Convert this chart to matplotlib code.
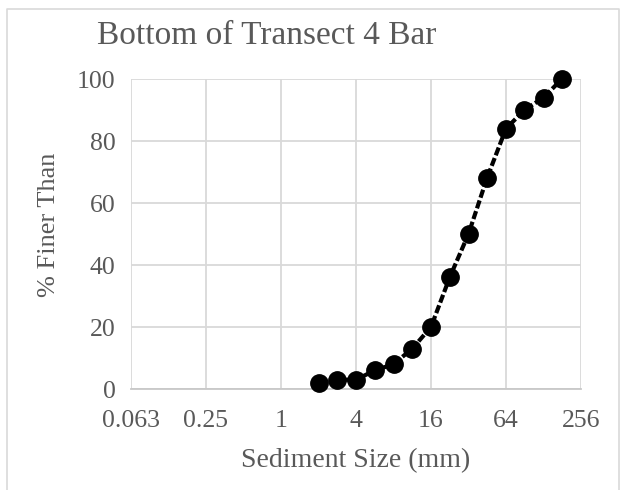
import matplotlib
matplotlib.use("Agg")
import matplotlib.pyplot as plt
from matplotlib.lines import Line2D

# Grain size distribution (sieve size in mm vs cumulative % finer)
size_mm = [2, 2.83, 4, 5.66, 8, 11.3, 16, 22.6, 32, 45, 64, 90, 128, 180]
pct_finer = [2, 3, 3, 6, 8, 13, 20, 36, 50, 68, 84, 90, 94, 100]

x_ticks = [0.0625, 0.25, 1, 4, 16, 64, 256]
x_tick_labels = ["0.063", "0.25", "1", "4", "16", "64", "256"]
y_ticks = [0, 20, 40, 60, 80, 100]

text_grey = "#595959"
grid_grey = "#d9d9d9"

plt.rcParams["font.family"] = ["Liberation Serif", "DejaVu Serif"]

W, H = 621, 490
fig = plt.figure(figsize=(W / 100, H / 100), dpi=100)
ax = fig.add_axes([131 / W, 1 - 389 / H, 450 / W, 310 / H])

ax.plot(size_mm, pct_finer, color="black", lw=3.0,
        linestyle=(0, (2.0, 0.7)), marker="o", markersize=12.5,
        zorder=3, clip_on=False)

ax.set_xscale("log", base=2)
ax.set_xlim(0.0625, 256)
ax.set_ylim(0, 100)
ax.set_xticks(x_ticks)
ax.set_xticklabels(x_tick_labels)
ax.set_yticks(y_ticks)
ax.minorticks_off()

ax.grid(True, color=grid_grey, lw=1.3)
ax.set_axisbelow(True)
for side in ["top", "right", "left"]:
    ax.spines[side].set_visible(False)
ax.spines["bottom"].set_color("#c8c8c8")
ax.spines["bottom"].set_linewidth(1.3)

ax.tick_params(axis="both", length=0, labelsize=18.5, labelcolor=text_grey)
ax.tick_params(axis="x", pad=15)
ax.tick_params(axis="y", pad=11)

# Titles
fig.text(267 / W, 1 - 44 / H, "Bottom of Transect 4 Bar", ha="center",
         va="baseline", fontsize=24, color=text_grey)
fig.text(356 / W, 1 - 461 / H, "Sediment Size (mm)", ha="center",
         va="center", fontsize=20, color=text_grey)
fig.text(49 / W, 1 - 225 / H, "% Finer Than", ha="center", va="center",
         rotation=90, fontsize=19, color=text_grey)

# Light chart-area border
border = Line2D([7 / W, 7 / W, 619 / W, 619 / W], [0, 1 - 9 / H, 1 - 9 / H, 0],
                transform=fig.transFigure, color=grid_grey, lw=1.2)
fig.add_artist(border)

fig.savefig("out.png", dpi=100)
